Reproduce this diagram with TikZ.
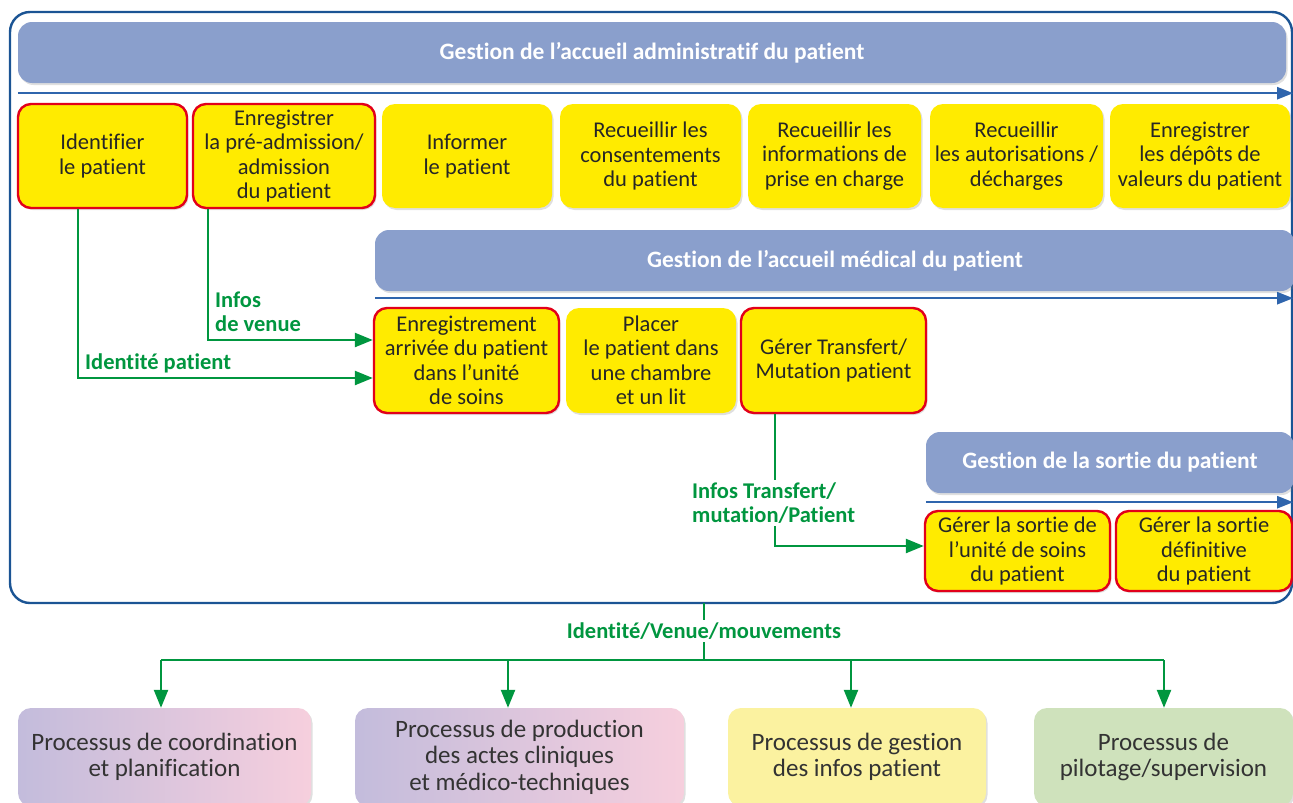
\documentclass[tikz,border=0pt]{standalone}
\usepackage{fontspec}
\setmainfont[RawFeature={-liga}]{Carlito}
\usetikzlibrary{positioning,arrows.meta,shadows}
\definecolor{bandblue}{HTML}{8A9FCC}
\definecolor{lineblue}{HTML}{2F65AD}
\definecolor{frameblue}{HTML}{1B5494}
\definecolor{taskyellow}{HTML}{FFEB00}
\definecolor{keyred}{HTML}{E2001A}
\definecolor{flowgreen}{HTML}{00963F}
\definecolor{lavender}{HTML}{C3BCDC}
\definecolor{rose}{HTML}{F6CFDD}
\definecolor{paleyellow}{HTML}{FBF2A0}
\definecolor{palegreen}{HTML}{CFE2BC}

\begin{document}
\begin{tikzpicture}
    [
      x=1pt, y=-1pt,
      every node/.style = {font=\fontsize{22.5}{24.5}\selectfont, align=center, inner sep=0pt, text=black!85},
      softshadow/.style = {drop shadow={shadow xshift=1.5pt, shadow yshift=-2pt, opacity=.25}},
      band/.style = {fill=bandblue, rounded corners=14pt, minimum height=61, text=white,
                     font=\fontsize{23.5}{26}\selectfont\bfseries, softshadow},
      task/.style = {fill=taskyellow, rounded corners=13pt, minimum height=104, softshadow},
      key/.style = {task, draw=keyred, line width=2.4pt},
      proc/.style = {rounded corners=13pt, minimum height=98, text=black!80,
                     font=\fontsize{25}{26.5}\selectfont, softshadow},
      timeline/.style = {draw=lineblue, line width=2.2pt, -{Triangle[length=16pt,width=12pt]}},
      flow/.style = {draw=flowgreen, line width=2.4pt},
      flowarrow/.style = {flow, -{Triangle[length=18pt,width=14pt]}},
      flowlabel/.style = {text=flowgreen, font=\fontsize{22.5}{24}\selectfont\bfseries, align=left}
    ]
    \useasboundingbox (0,0) rectangle (1293,803);

    \node[draw=frameblue, line width=2.4pt, rounded corners=20pt,
          minimum width=1282, minimum height=591] (frame) at (651,307.5) {};

    % accueil administratif
    \node[band, minimum width=1268] (h1) at (652,52.5) {Gestion de l’accueil administratif du patient};
    \draw[timeline] ([yshift=-10pt]h1.south west) -- ([yshift=-10pt]h1.south west -| frame.east);

    \node[key, minimum width=169] (idp) at (102.5,156) {Identifier\\le patient};
    \node[key, minimum width=182] (adm) at (284,156) {Enregistrer\\la pré-admission/\\admission\\du patient};
    \node[task, minimum width=170] (inf) at (467,156) {Informer\\le patient};
    \node[task, minimum width=181] (cons) at (650.5,156) {Recueillir les\\consentements\\du patient};
    \node[task, minimum width=173] (prise) at (834.5,156) {Recueillir les\\informations de\\prise en charge};
    \node[task, minimum width=173] (autor) at (1016.5,156) {Recueillir\\les autorisations /\\décharges};
    \node[task, minimum width=180] (depot) at (1200,156) {Enregistrer\\les dépôts de\\valeurs du patient};

    % accueil medical
    \node[band, minimum width=920] (h2) at (835,260.5) {Gestion de l’accueil médical du patient};
    \draw[timeline] ([yshift=-7pt]h2.south west) -- ([yshift=-7pt]h2.south west -| frame.east);

    \node[key, minimum width=185, minimum height=105] (arr) at (466.5,360.5) {Enregistrement\\arrivée du patient\\dans l’unité\\de soins};
    \node[task, minimum width=170, minimum height=105] (lit) at (651,360.5) {Placer\\le patient dans\\une chambre\\et un lit};
    \node[key, minimum width=185, minimum height=105] (transf) at (833.5,360.5) {Gérer Transfert/\\Mutation patient};

    % sortie
    \node[band, minimum width=368] (h3) at (1110,462.5) {Gestion de la sortie du patient};
    \draw[timeline] ([yshift=-9pt]h3.south west) -- ([yshift=-9pt]h3.south west -| frame.east);

    \node[key, minimum width=185, minimum height=80] (sunit) at (1017.5,551) {Gérer la sortie de\\l’unité de soins\\du patient};
    \node[key, minimum width=176, minimum height=80] (sdef) at (1204,551) {Gérer la sortie\\définitive\\du patient};

    % flux internes
    \draw[flowarrow] ([xshift=-24.5pt]idp.south) |- ([yshift=-17.5pt]arr.west);
    \draw[flowarrow] ([xshift=-76pt]adm.south) |- ([yshift=20.5pt]arr.west);
    \draw[flowarrow] ([xshift=-58.5pt]transf.south) |- ([yshift=5pt]sunit.west);
    \node[flowlabel, anchor=west] (lid) at (85,363) {Identité patient};
    \node[flowlabel, anchor=west] (lvenue) at (215,312) {Infos\\de venue};
    \node[flowlabel, anchor=west, fill=white, inner sep=3pt] (ltransf) at (689,503) {Infos Transfert/\\mutation/Patient};

    % processus en aval
    \node[proc, left color=lavender, right color=rose, minimum width=293] (p1) at (164.5,757) {Processus de coordination\\et planification};
    \node[proc, left color=lavender, right color=rose, minimum width=329] (p2) at (519.5,757) {Processus de production\\des actes cliniques\\et médico-techniques};
    \node[proc, fill=paleyellow, minimum width=258] (p3) at (857,757) {Processus de gestion\\des infos patient};
    \node[proc, fill=palegreen, minimum width=259] (p4) at (1163.5,757) {Processus de\\pilotage/supervision};

    \coordinate (out) at (704,603);
    \coordinate (split) at (704,660);
    \draw[flow] (out) -- (split);
    \node[flowlabel, fill=white, inner sep=3pt] (lmove) at (704,631) {Identité/Venue/mouvements};
    \draw[flow] ([xshift=-3.5pt]p1.north |- split) -- ([xshift=0.5pt]p4.north |- split);
    \foreach \p/\s in {p1/-3.5, p2/-11.5, p3/-6, p4/0.5}
      \draw[flowarrow] ([xshift=\s pt]\p.north |- split) -- ([xshift=\s pt]\p.north);
\end{tikzpicture}
\end{document}
